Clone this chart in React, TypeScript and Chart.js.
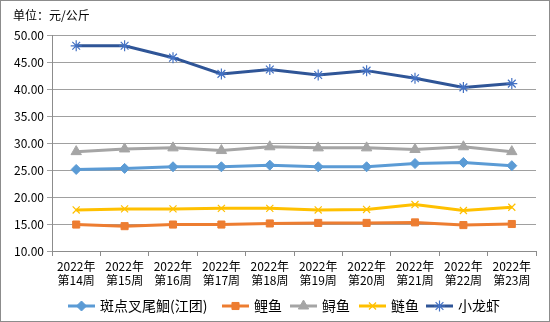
import React, { useEffect, useRef } from "react";
import { Chart, registerables } from "chart.js";
import { drawPoint } from "chart.js/helpers";

Chart.register(...registerables);

const weeks = ["14", "15", "16", "17", "18", "19", "20", "21", "22", "23"];
const categories = weeks.map((w) => ["2022年", `第${w}周`]);

const seriesNames = ["斑点叉尾鮰(江团)", "鲤鱼", "鲟鱼", "鲢鱼", "小龙虾"];
const catfish = [25.1, 25.3, 25.6, 25.6, 25.9, 25.6, 25.6, 26.2, 26.4, 25.8];
const carp = [14.9, 14.6, 14.9, 14.9, 15.1, 15.2, 15.2, 15.3, 14.8, 15.0];
const sturgeon = [28.4, 28.9, 29.1, 28.6, 29.3, 29.1, 29.1, 28.8, 29.3, 28.4];
const silverCarp = [17.6, 17.8, 17.8, 17.9, 17.9, 17.6, 17.7, 18.6, 17.5, 18.1];
const crayfish = [48.0, 48.0, 45.8, 42.8, 43.6, 42.6, 43.4, 42.0, 40.3, 41.0];

const yMin = 10;
const yMax = 50;
const yStep = 5;
const unitTitle = "单位：元/公斤";

const FONT = "'Noto Sans CJK SC', 'Noto Sans', sans-serif";

const styles = [
  { line: "#5B9BD5", marker: "#5B9BD5", style: "rectRot", r: 5, bw: 1 },
  { line: "#ED7D31", marker: "#ED7D31", style: "rect", r: 5, bw: 1 },
  { line: "#A5A5A5", marker: "#A5A5A5", style: "triangle", r: 6, bw: 1 },
  { line: "#FFC000", marker: "#FFC000", style: "crossRot", r: 5, bw: 1.2 },
  { line: "#2F5597", marker: "#4472C4", style: "star", r: 5.5, bw: 1.2 },
];

const legendStarts = [68, 222, 290, 359, 426];

export default function App() {
  const ref = useRef<HTMLCanvasElement>(null);
  useEffect(() => {
    document.body.style.margin = "0";
    const values = [catfish, carp, sturgeon, silverCarp, crayfish];
    const framePlugin = {
      id: "frame",
      afterDraw(chart: any) {
        const ctx = chart.ctx;
        ctx.save();
        ctx.strokeStyle = "#8C8C8C";
        ctx.lineWidth = 1;
        ctx.strokeRect(0.5, 0.5, chart.width - 1, chart.height - 1);
        ctx.fillStyle = "#000";
        ctx.font = `12px ${FONT}`;
        ctx.textBaseline = "middle";
        ctx.textAlign = "left";
        ctx.fillText(unitTitle, 13, 15);
        // legend
        ctx.font = `14px ${FONT}`;
        const y = 306;
        seriesNames.forEach((name, i) => {
          const x = legendStarts[i];
          const s = styles[i];
          ctx.strokeStyle = s.line;
          ctx.lineWidth = 3;
          ctx.beginPath();
          ctx.moveTo(x, y);
          ctx.lineTo(x + 27, y);
          ctx.stroke();
          ctx.fillStyle = s.marker;
          ctx.strokeStyle = s.marker;
          ctx.lineWidth = s.bw;
          drawPoint(ctx, { pointStyle: s.style as any, radius: s.r, rotation: 0, borderWidth: s.bw }, x + 13.5, y);
          ctx.fillStyle = "#000";
          ctx.fillText(name, x + 32, y);
        });
        ctx.restore();
      },
    };
    const chart = new Chart(ref.current!, {
      type: "line",
      data: {
        labels: categories as any,
        datasets: values.map((v, i) => ({
          label: seriesNames[i],
          data: v,
          borderColor: styles[i].line,
          backgroundColor: styles[i].marker,
          borderWidth: 3,
          pointStyle: styles[i].style as any,
          pointRadius: styles[i].r,
          pointBorderColor: styles[i].marker,
          pointBackgroundColor: styles[i].marker,
          pointBorderWidth: styles[i].bw,
          tension: 0,
        })),
      },
      options: {
        responsive: false,
        animation: false,
        layout: { padding: { left: 0, right: 14, top: 35, bottom: 0 } },
        plugins: { legend: { display: false }, tooltip: { enabled: false }, title: { display: false } },
        scales: {
          x: {
            offset: true,
            grid: {
              display: true,
              drawOnChartArea: false,
              drawTicks: true,
              tickLength: 5,
              offset: true,
              color: "#8C8C8C",
            },
            border: { display: true, color: "#8C8C8C" },
            ticks: {
              color: "#000",
              font: { family: FONT, size: 12, lineHeight: 1.2 },
              maxRotation: 0,
              autoSkip: false,
              padding: 3,
            },
            afterFit(scale: any) {
              scale.height = 322 - 251;
            },
          },
          y: {
            min: yMin,
            max: yMax,
            grid: { color: "#A0A0A0", tickLength: 5, drawTicks: true },
            border: { display: true, color: "#8C8C8C" },
            ticks: {
              stepSize: yStep,
              color: "#000",
              font: { family: FONT, size: 12 },
              padding: 3,
              callback: (v: any) => Number(v).toFixed(2),
            },
            afterFit(scale: any) {
              scale.width = 52;
            },
          },
        },
      },
      plugins: [framePlugin],
    });
    return () => chart.destroy();
  }, []);
  return (
    <div style={{ width: 550, height: 322 }}>
      <canvas ref={ref} width={550} height={322} style={{ display: "block" }} />
    </div>
  );
}
